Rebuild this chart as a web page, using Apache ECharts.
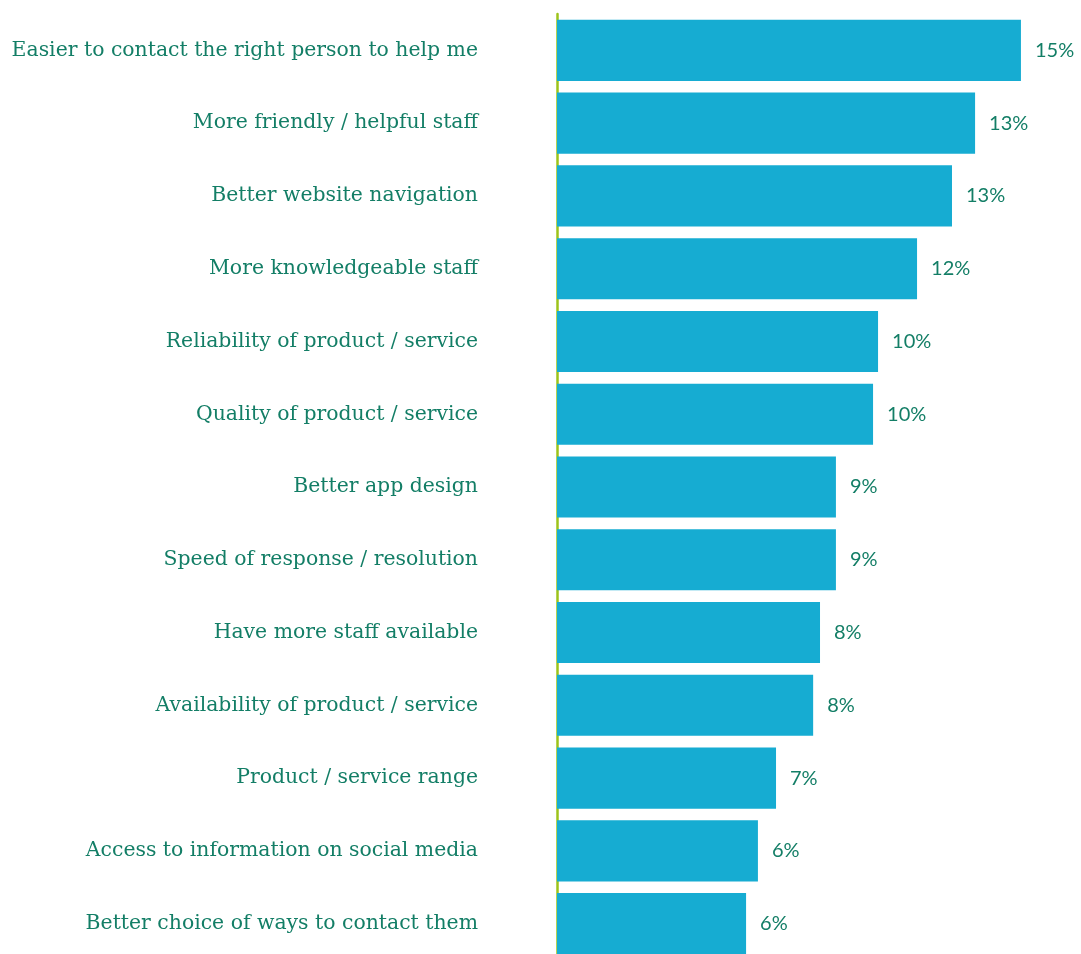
<!DOCTYPE html>
<html>
<head>
<meta charset="utf-8">
<style>
  html, body { margin: 0; padding: 0; background: #ffffff; overflow: hidden; }
  #chart { width: 1081px; height: 962px; }
</style>
<script src="https://cdn.jsdelivr.net/npm/echarts@6/dist/echarts.min.js"></script>
</head>
<body>
<div id="chart"></div>
<script>
// Improvements customers would like to see (share of respondents, %)
const categories = [
  'Easier to contact the right person to help me',
  'More friendly / helpful staff',
  'Better website navigation',
  'More knowledgeable staff',
  'Reliability of product / service',
  'Quality of product / service',
  'Better app design',
  'Speed of response / resolution',
  'Have more staff available',
  'Availability of product / service',
  'Product / service range',
  'Access to information on social media',
  'Better choice of ways to contact them'
];
const values = [14.87, 13.4, 12.66, 11.54, 10.29, 10.13, 8.94, 8.94, 8.43, 8.21, 7.02, 6.44, 6.06];

const textColor = '#137e66';
const barColor = '#16acd2';
const axisColor = '#9dc31a';

const chart = echarts.init(document.getElementById('chart'));
chart.setOption({
  animation: false,
  grid: { left: 557, top: 14, height: 946, width: 499.2, containLabel: false },
  xAxis: {
    type: 'value',
    min: 0,
    max: 16,
    show: false,
    splitLine: { show: false }
  },
  yAxis: {
    type: 'category',
    data: categories,
    inverse: true,
    axisLine: { show: true, lineStyle: { color: axisColor, width: 2.5 } },
    axisTick: { show: false },
    axisLabel: {
      margin: 79,
      color: textColor,
      fontFamily: 'DejaVu Serif',
      fontSize: 20.4
    }
  },
  series: [{
    type: 'bar',
    data: values,
    barCategoryGap: '16%',
    itemStyle: { color: barColor },
    label: {
      show: true,
      position: 'right',
      distance: 14,
      color: textColor,
      fontFamily: 'Lato',
      fontSize: 20,
      formatter: p => Math.round(p.value) + '%'
    }
  }]
});
</script>
</body>
</html>
